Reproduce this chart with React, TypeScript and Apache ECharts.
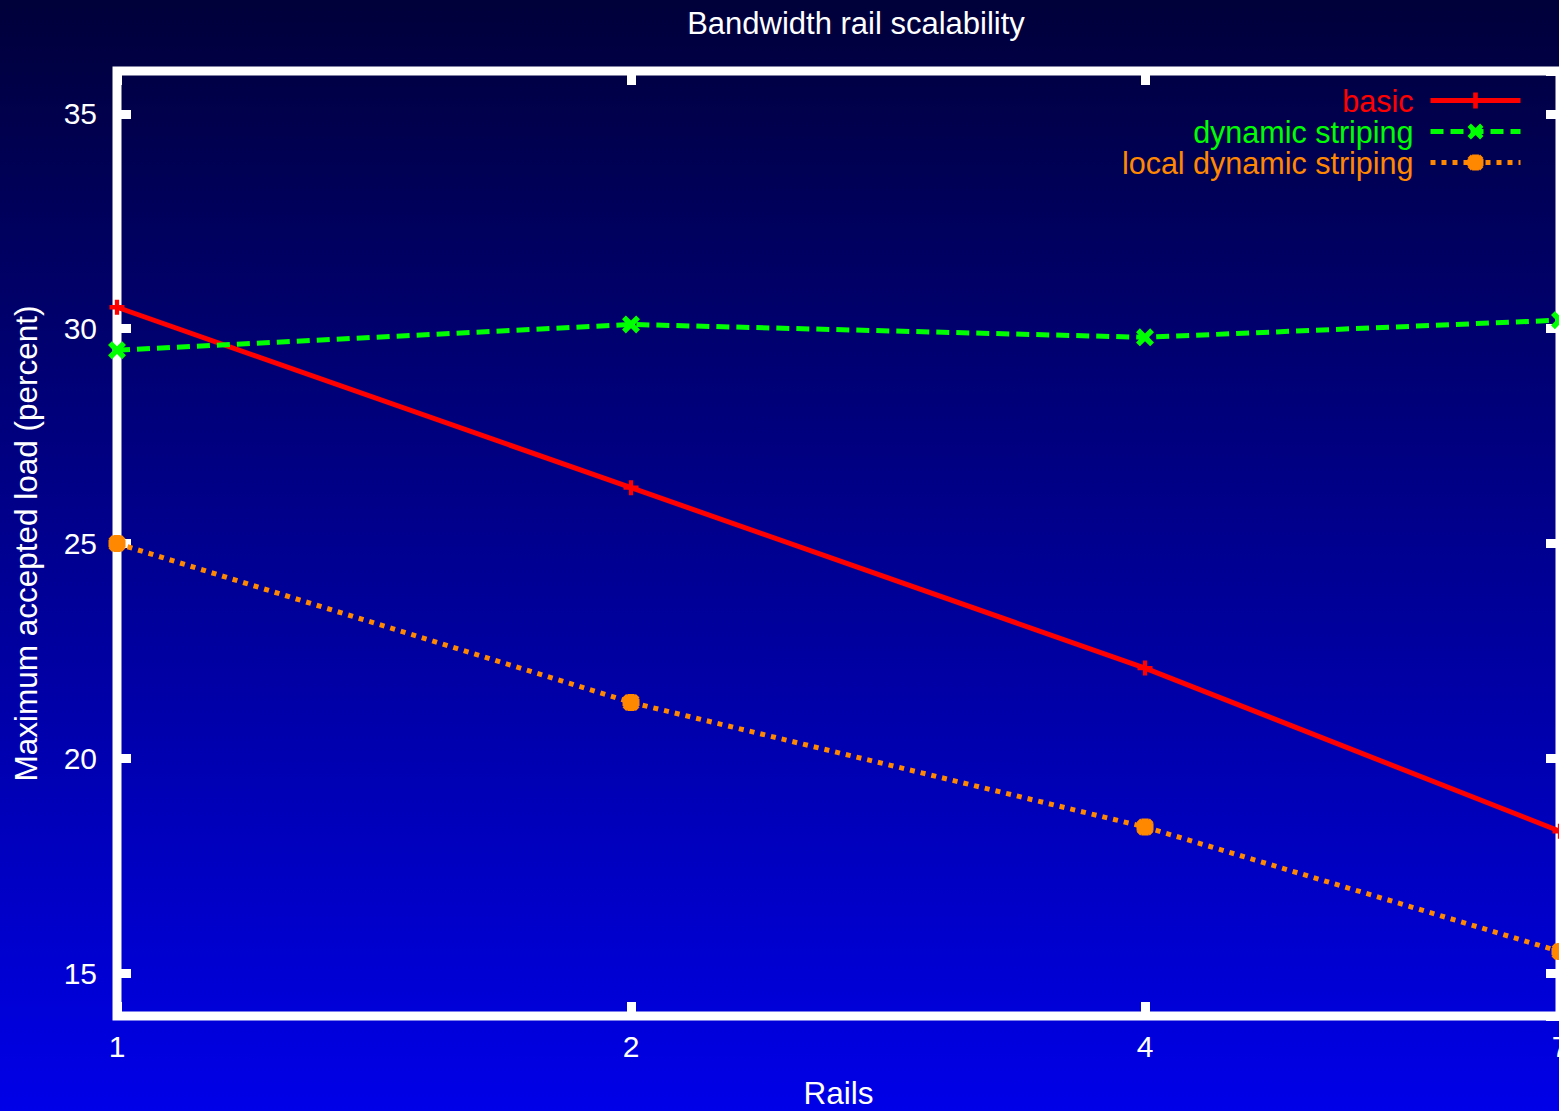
import React, { useEffect, useRef } from 'react';
import * as echarts from 'echarts';

// ---- data ----
const rails = [1, 2, 4, 7];
const basic = [30.5, 26.3, 22.1, 18.3];
const dynamicStriping = [29.5, 30.1, 29.8, 30.2];
const localDynamicStriping = [25.0, 21.3, 18.4, 15.5];
const seriesNames = ['basic', 'dynamic striping', 'local dynamic striping'];
const seriesColors = ['#ff0000', '#00ff00', '#ff8800'];
const yRange = [14, 36];
const xRange = [1, 7];
const titleText = 'Bandwidth rail scalability';
const xName = 'Rails';
const yName = 'Maximum accepted load (percent)';

const FONT = '"Liberation Sans", Arial, Helvetica, sans-serif';

const PLUS = 'path://M5,0H9V5H14V9H9V14H5V9H0V5H5Z';
const CROSS = 'path://M3,0L7,4L11,0L14,3L10,7L14,11L11,14L7,10L3,14L0,11L4,7L0,3Z';
const STAR =
  'path://M4,0H10V4H14V10H10V14H4V10H0V4H4Z M3,0L7,4L11,0L14,3L10,7L14,11L11,14L7,10L3,14L0,11L4,7L0,3Z';

const pairs = (ys: number[]) => rails.map((x, i) => [x, ys[i]]);

export default function App() {
  const ref = useRef<HTMLDivElement>(null);

  useEffect(() => {
    document.body.style.margin = '0';
    if (!ref.current) return;
    const chart = echarts.init(ref.current, undefined, { renderer: 'svg' });

    const tick = {
      show: true,
      inside: true,
      length: 14,
      lineStyle: { color: '#ffffff', width: 9 },
    };
    const label = { color: '#ffffff', fontSize: 30, fontFamily: FONT };

    const option: any = {
      animation: false,
      backgroundColor: 'transparent',
      textStyle: { fontFamily: FONT },
      graphic: [
        {
          type: 'text',
          x: 856,
          y: 23,
          style: {
            text: titleText,
            fill: '#ffffff',
            font: `31px ${FONT}`,
            align: 'center',
            verticalAlign: 'middle',
          },
        },
      ],
      grid: {
        left: 117,
        top: 71,
        width: 1443,
        height: 945,
        show: true,
        containLabel: false,
        outerBoundsMode: 'none',
        borderColor: '#ffffff',
        borderWidth: 9,
        backgroundColor: 'transparent',
      },
      legend: {
        orient: 'vertical',
        right: 36,
        top: 85,
        padding: 0,
        align: 'right',
        itemWidth: 90,
        itemHeight: 20,
        itemGap: 0,
        lineStyle: { width: 5 },
        textStyle: {
          fontSize: 30.5,
          lineHeight: 29,
          fontFamily: FONT,
          padding: [0, 12, 0, 0],
        },
        data: seriesNames.map((n, i) => ({
          name: n,
          textStyle: { color: seriesColors[i] },
        })),
      },
      xAxis: [
        {
          type: 'log',
          logBase: 2,
          min: xRange[0],
          max: xRange[1],
          position: 'bottom',
          name: xName,
          nameLocation: 'middle',
          nameGap: 61,
          nameTextStyle: { color: '#ffffff', fontSize: 31.5, fontFamily: FONT },
          axisLine: { show: false },
          axisTick: tick,
          splitLine: { show: false },
          minorTick: { show: false },
          axisLabel: { ...label, margin: 15, showMinLabel: true, showMaxLabel: true },
        },
        {
          type: 'log',
          logBase: 2,
          min: xRange[0],
          max: xRange[1],
          position: 'top',
          axisLine: { show: false },
          axisTick: tick,
          splitLine: { show: false },
          axisLabel: { show: false },
        },
      ],
      yAxis: [
        {
          type: 'value',
          min: yRange[0],
          max: yRange[1],
          position: 'left',
          name: yName,
          nameLocation: 'middle',
          nameGap: 75,
          nameTextStyle: { color: '#ffffff', fontSize: 31.5, fontFamily: FONT },
          axisLine: { show: false },
          axisTick: tick,
          splitLine: { show: false },
          axisLabel: { ...label, margin: 20, showMinLabel: false, showMaxLabel: false },
        },
        {
          type: 'value',
          min: yRange[0],
          max: yRange[1],
          position: 'right',
          axisLine: { show: false },
          axisTick: tick,
          splitLine: { show: false },
          axisLabel: { show: false },
        },
      ],
      series: [
        {
          name: seriesNames[0],
          type: 'line',
          data: pairs(basic),
          xAxisIndex: 0,
          yAxisIndex: 0,
          symbol: PLUS,
          symbolSize: 15,
          color: seriesColors[0],
          itemStyle: { color: seriesColors[0], borderWidth: 0 },
          lineStyle: { color: seriesColors[0], width: 5, type: 'solid' },
        },
        {
          name: seriesNames[1],
          type: 'line',
          data: pairs(dynamicStriping),
          xAxisIndex: 0,
          yAxisIndex: 0,
          symbol: CROSS,
          symbolSize: 18,
          color: seriesColors[1],
          itemStyle: { color: seriesColors[1], borderWidth: 0 },
          lineStyle: { color: seriesColors[1], width: 5, type: [13, 7] },
        },
        {
          name: seriesNames[2],
          type: 'line',
          data: pairs(localDynamicStriping),
          xAxisIndex: 0,
          yAxisIndex: 0,
          symbol: STAR,
          symbolSize: 17,
          color: seriesColors[2],
          itemStyle: { color: seriesColors[2], borderWidth: 0 },
          lineStyle: { color: seriesColors[2], width: 5, type: [5, 6] },
        },
      ],
    };

    chart.setOption(option);
    return () => chart.dispose();
  }, []);

  return (
    <div
      ref={ref}
      style={{
        width: 1559,
        height: 1111,
        background: 'linear-gradient(to bottom, #00003a 0%, #0000e8 100%)',
      }}
    />
  );
}
